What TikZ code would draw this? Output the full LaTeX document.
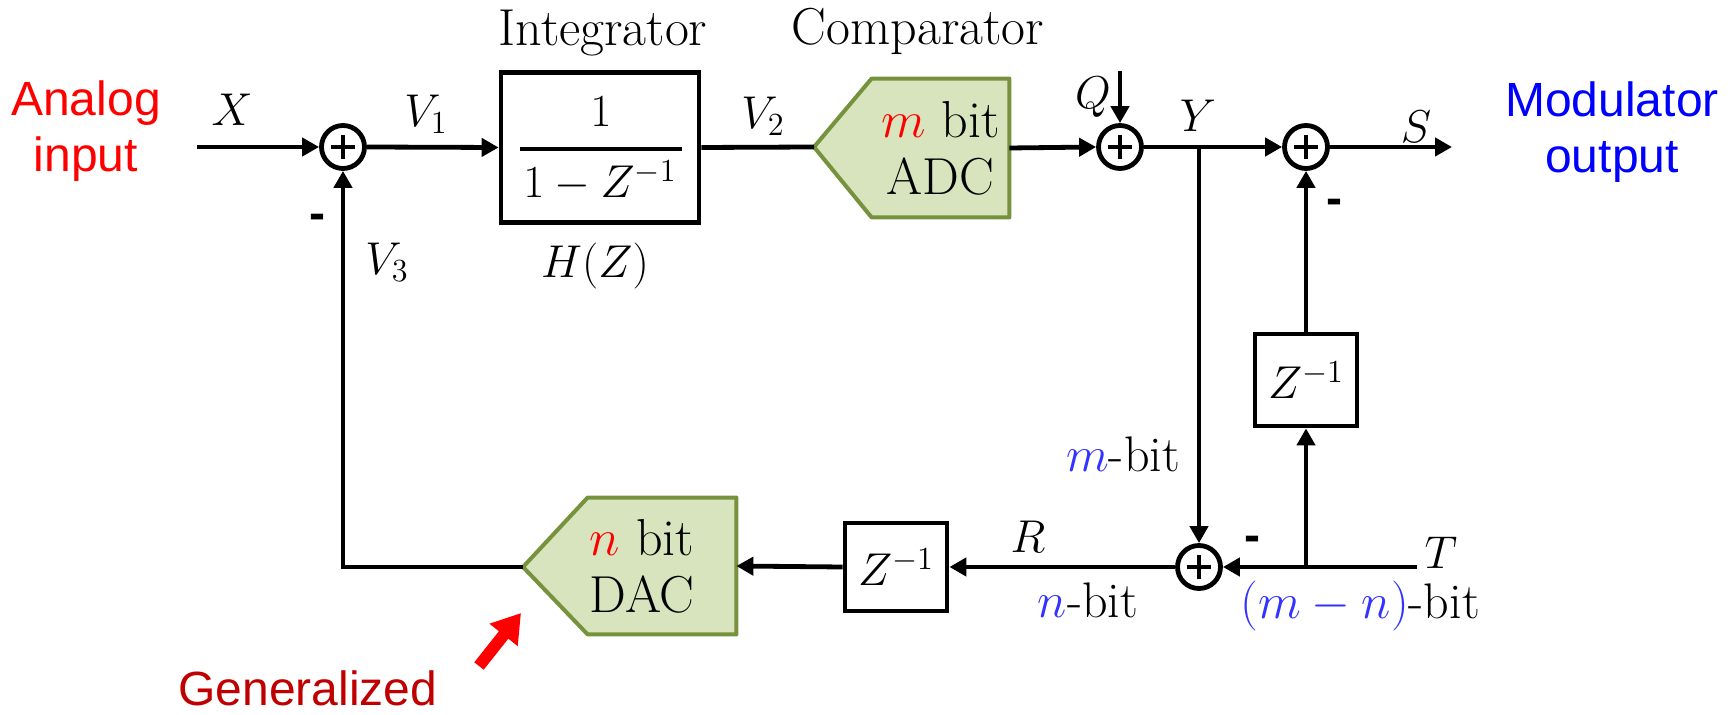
\RequirePackage{fix-cm}
\documentclass[tikz,border=0pt]{standalone}
\usepackage{fontspec}
\newfontfamily\arialfont{Liberation Sans}
\usetikzlibrary{arrows.meta,backgrounds,calc}
\definecolor{ablue}{RGB}{0,0,255}
\definecolor{bitblue}{RGB}{51,51,255}
\definecolor{dred}{RGB}{192,0,0}
\definecolor{gfill}{RGB}{215,228,189}
\definecolor{gline}{RGB}{118,146,60}
\begin{document}
\begin{tikzpicture}[x=0.5pt,y=-0.5pt,
  every node/.style={font=\fontsize{23}{28.5}\selectfont, inner sep=0pt},
  txt/.style={font=\fontsize{26}{28.5}\selectfont},
  bitlbl/.style={font=\fontsize{25}{28}\selectfont},
  conn/.style={line width=2.4pt, -{Triangle[length=8.5pt,width=9pt]}},
  wire/.style={line width=2.4pt},
  sumnode/.style={circle, draw, line width=2.4pt, minimum size=21.5pt,
    path picture={\draw[line width=2pt]
      ($(path picture bounding box.center)+(-6pt,0)$) -- ++(12pt,0)
      ($(path picture bounding box.center)+(0,-6pt)$) -- ++(0,12pt);}},
  blk/.style={draw, line width=2.4pt, rectangle},
  conv/.style={draw=gline, fill=gfill, line width=2pt, line join=round},
  sans/.style={font=\arialfont\fontsize{24}{28}\selectfont},
  minus/.style={font=\arialfont\bfseries\fontsize{24}{24}\selectfont},
  redarrow/.style={draw=red, line width=6pt, -{Triangle[length=14pt,width=17pt]}}
]
\useasboundingbox (0,0) rectangle (1735,715);
\begin{scope}[on background layer]
\fill[white] (0,0) rectangle (1735,715);
\end{scope}

% side texts
\node[sans, text=red, align=center] (ain) at (86,131) {Analog\\input};
\node[sans, text=ablue, align=center] (mout) at (1612,132) {Modulator\\output};
\node[sans, text=dred] (gen) at (308,688) {Generalized};

% summing nodes
\node[sumnode] (s1) at (343,147) {};
\node[sumnode] (s2) at (1120,147) {};
\node[sumnode] (s3) at (1306,147) {};
\node[sumnode] (s4) at (1199,567) {};

% integrator
\node[blk, minimum width=99pt, minimum height=75pt] (int) at (600,147.5) {};
\node (num) at (601,112) {$1$};
\node (den) at (600,181) {$1-Z^{-1}$};
\draw[line width=2.4pt] (520,149) -- (682,149);
\node[txt] (intlbl) at (603,33) {Integrator};
\node (hz) at (595,266) {$H(Z)$};

% ADC
\coordinate (adctip) at (814,147);
\node[txt, minimum width=68.5pt, minimum height=69pt, align=center] (adc) at (940.5,148)
  {$\textcolor{red}{m}$ bit\\ADC};
\begin{scope}[on background layer]
\draw[conv] (adc.north east) -- (adc.north west) -- (adctip) -- (adc.south west) -- (adc.south east) -- cycle;
\end{scope}
\node[txt] (cmplbl) at (918,31) {Comparator};

% DAC
\coordinate (dactip) at (523,567);
\node[minimum width=74pt, minimum height=68pt] (dac) at (662,566) {};
\node[txt, align=center] (dactxt) at (642,566) {$\textcolor{red}{n}$ bit\\DAC};
\begin{scope}[on background layer]
\draw[conv] (dac.north east) -- (dac.north west) -- (dactip) -- (dac.south west) -- (dac.south east) -- cycle;
\end{scope}

% delay boxes
\node[blk, minimum width=51pt, minimum height=46pt] (z1) at (1306,380) {$Z^{-1}$};
\node[blk, minimum width=51pt, minimum height=44pt] (z2) at (896,567) {$Z^{-1}$};

% free ends
\coordinate (xin) at (197,147);
\coordinate (qtop) at (1120,71);
\coordinate (jy) at (1199,147);
\coordinate (sout) at (1452,147);
\coordinate (tin) at (1417,567);
\coordinate (tj) at (1306,567);

% connectors
\draw[conn] (xin) -- (s1.west);
\draw[conn] (s1.east) -- (int.west);
\draw[wire] (int.east) -- (adctip);
\draw[conn] (adc.east) -- (s2.west);
\draw[conn] (qtop) -- (s2.north);
\draw[conn] (s2.east) -- (s3.west);
\draw[conn] (s3.east) -- (sout);
\draw[conn] (jy) -- (s4.north);
\draw[conn] (tin) -- (s4.east);
\draw[conn] (tj) -- (z1.south);
\draw[conn] (z1.north) -- (s3.south);
\draw[conn] (s4.west) -- (z2.east);
\draw[conn] (z2.west) -- (dac.east);
\draw[conn] (dactip) -| (s1.south);

% red arrow
\coordinate (ratail) at (479,666);
\coordinate (rahead) at (521,613);
\draw[redarrow] (ratail) -- (rahead);

% labels
\node (lx) at (232,110) {$X$};
\node (lv1) at (426,114) {$V_1$};
\node (lv2) at (763,116) {$V_2$};
\node (lv3) at (387,262) {$V_3$};
\node (lq) at (1093,97) {$Q$};
\node (ly) at (1198,116) {$Y$};
\node (ls) at (1416,127) {$S$};
\node (lt) at (1441,553) {$T$};
\node (lr) at (1028,537) {$R$};
\node[bitlbl] (lmbit) at (1123,454) {\textcolor{bitblue}{$m$}-bit};
\node[bitlbl] (lnbit) at (1088,600) {\textcolor{bitblue}{$n$}-bit};
\node[bitlbl] (lmnbit) at (1360,606) {\textcolor{bitblue}{$(m-n)$}-bit};
\node[minus] (m1) at (317,222) {-};
\node[minus] (m3) at (1334,207) {-};
\node[minus] (m4) at (1252,544) {-};
\end{tikzpicture}
\end{document}
